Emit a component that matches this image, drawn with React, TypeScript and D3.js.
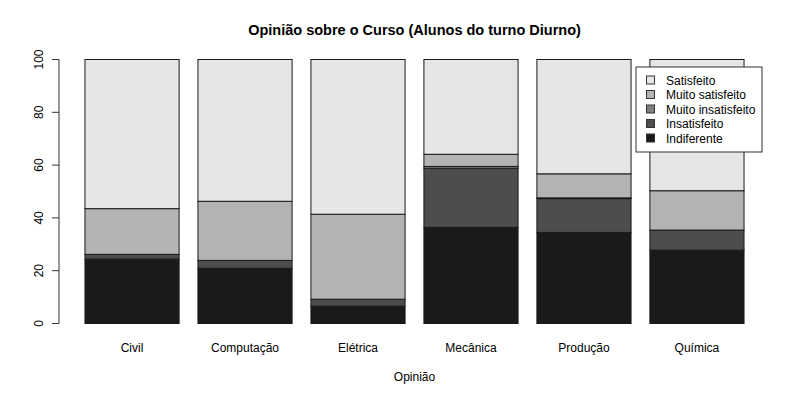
import React from "react";
import * as d3 from "d3";

const categories = ["Civil", "Computação", "Elétrica", "Mecânica", "Produção", "Química"];
const seriesNames = ["Indiferente", "Insatisfeito", "Muito insatisfeito", "Muito satisfeito", "Satisfeito"];
const indiferente = [24.4, 20.9, 6.6, 36.4, 34.5, 27.8];
const insatisfeito = [1.8, 3.0, 2.6, 22.4, 12.8, 7.6];
const muitoInsatisfeito = [0, 0, 0, 0.7, 0.3, 0];
const muitoSatisfeito = [17.3, 22.4, 32.2, 4.6, 9.1, 14.9];
const satisfeito = [56.5, 53.7, 58.6, 35.9, 43.3, 49.7];
const yTicks = [0, 20, 40, 60, 80, 100];
const colors = ["#1a1a1a", "#4d4d4d", "#808080", "#b3b3b3", "#e6e6e6"];

const W = 800;
const H = 400;
const FONT = "'Liberation Sans', Arial, Helvetica, sans-serif";

export default function App() {
  const rows = categories.map((c, i) => ({
    cat: c,
    "Indiferente": indiferente[i],
    "Insatisfeito": insatisfeito[i],
    "Muito insatisfeito": muitoInsatisfeito[i],
    "Muito satisfeito": muitoSatisfeito[i],
    "Satisfeito": satisfeito[i],
  }));
  const stack = d3.stack<any>().keys(seriesNames)(rows);

  // R barplot geometry: bars at [0.2+1.2i, 1.2+1.2i], xlim [0.2,7.2] expanded 4%
  const x = d3.scaleLinear().domain([-0.08, 7.48]).range([58.6, 770.4]);
  const y = d3.scaleLinear().domain([0, 100]).range([323.5, 59.5]);

  const legendItems = [...seriesNames].reverse();
  const legendColors = [...colors].reverse();

  return (
    <svg width={W} height={H} style={{ position: "absolute", left: 0, top: 0, background: "#fff" }} fontFamily={FONT}>
      <rect x={0} y={0} width={W} height={H} fill="#fff" />
      <text x={414.5} y={35} textAnchor="middle" fontSize={14.5} fontWeight="bold">
        Opinião sobre o Curso (Alunos do turno Diurno)
      </text>
      {stack.map((s, si) =>
        s.map((d, i) => {
          const x0 = x(0.2 + 1.2 * i);
          const x1 = x(1.2 + 1.2 * i);
          return (
            <rect
              key={`${si}-${i}`}
              x={x0}
              y={y(d[1])}
              width={x1 - x0}
              height={Math.max(0, y(d[0]) - y(d[1]))}
              fill={colors[si]}
              stroke="#1a1a1a"
              strokeWidth={1}
            />
          );
        })
      )}
      {/* y axis */}
      <line x1={59} x2={59} y1={y(0)} y2={y(100)} stroke="#333" />
      {yTicks.map((t) => (
        <g key={t}>
          <line x1={52} x2={59} y1={y(t)} y2={y(t)} stroke="#333" />
          <text
            transform={`translate(43,${y(t)}) rotate(-90)`}
            textAnchor="middle"
            fontSize={12}
          >
            {t}
          </text>
        </g>
      ))}
      {/* category labels */}
      {categories.map((c, i) => (
        <text key={c} x={x(0.7 + 1.2 * i)} y={352} textAnchor="middle" fontSize={12}>
          {c}
        </text>
      ))}
      <text x={414.5} y={381} textAnchor="middle" fontSize={12}>
        Opinião
      </text>
      {/* legend */}
      <rect x={636} y={67} width={126} height={85} fill="#fff" stroke="#333" />
      {legendItems.map((name, i) => (
        <g key={name}>
          <rect x={646.5} y={76 + i * 14.5} width={8} height={8} fill={legendColors[i]} stroke="#333" />
          <text x={666} y={84.5 + i * 14.5} fontSize={12}>
            {name}
          </text>
        </g>
      ))}
    </svg>
  );
}
